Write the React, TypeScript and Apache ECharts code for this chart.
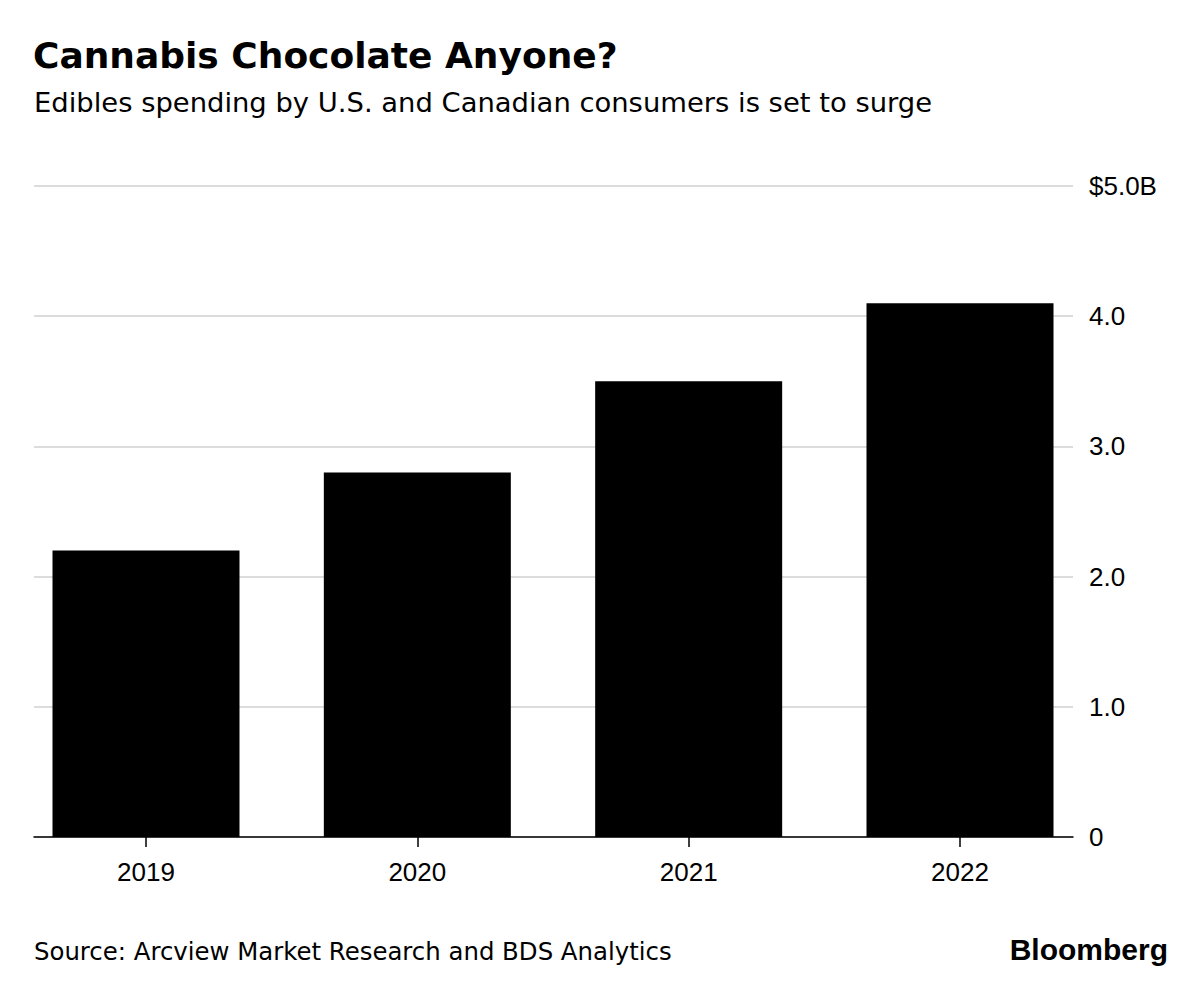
import React, { useEffect, useRef } from "react";
import * as echarts from "echarts";

const categories = ["2019", "2020", "2021", "2022"];
const spending = [2.2, 2.8, 3.5, 4.1];
const yTicks = [0, 1, 2, 3, 4, 5];

const FONT = "'Liberation Sans', Arial, Helvetica, sans-serif";
const WIDE = "'DejaVu Sans', 'Liberation Sans', sans-serif";

export default function App() {
  const ref = useRef<HTMLDivElement>(null);
  useEffect(() => {
    document.body.style.margin = "0";
    const chart = echarts.init(ref.current!, null, { renderer: "svg" });
    const yMin = yTicks[0];
    const yMax = yTicks[yTicks.length - 1];
    chart.setOption({
      animation: false,
      backgroundColor: "#ffffff",
      textStyle: { fontFamily: FONT },
      graphic: [
        {
          type: "text",
          left: 33,
          top: 37,
          style: {
            text: "Cannabis Chocolate Anyone?",
            font: `bold 36px ${WIDE}`,
            fill: "#000",
          },
        },
        {
          type: "text",
          left: 34,
          top: 89,
          style: {
            text: "Edibles spending by U.S. and Canadian consumers is set to surge",
            font: `27.4px ${WIDE}`,
            fill: "#000",
          },
        },
        {
          type: "text",
          left: 34,
          top: 939,
          style: {
            text: "Source: Arcview Market Research and BDS Analytics",
            font: `24.4px ${WIDE}`,
            fill: "#000",
          },
        },
        {
          type: "text",
          right: 32,
          top: 934,
          style: {
            text: "Bloomberg",
            font: `bold 30px ${FONT}`,
            fill: "#000",
          },
        },
      ],
      grid: [
        { left: 34, right: 127, top: 186, bottom: 146 },
        { left: 10.33, right: 104.33, top: 186, bottom: 146 },
      ],
      xAxis: [
        {
          type: "value",
          gridIndex: 0,
          min: 0,
          max: 1,
          axisLine: { show: true, lineStyle: { color: "#000", width: 1.5 } },
          axisTick: { show: false },
          axisLabel: { show: false },
          splitLine: { show: false },
        },
        {
          type: "category",
          gridIndex: 1,
          data: categories,
          axisLine: { show: false },
          axisTick: {
            show: true,
            alignWithLabel: true,
            length: 10,
            lineStyle: { color: "#000", width: 1.5 },
          },
          axisLabel: {
            color: "#000",
            fontSize: 26,
            fontFamily: FONT,
            margin: 22,
          },
          splitLine: { show: false },
        },
      ],
      yAxis: [
        {
          type: "value",
          gridIndex: 0,
          position: "right",
          min: yMin,
          max: yMax,
          interval: 1,
          axisLine: { show: false },
          axisTick: { show: false },
          axisLabel: {
            color: "#000",
            fontSize: 26,
            fontFamily: FONT,
            margin: 16,
            formatter: (v: number) =>
              v === 0 ? "0" : v === yMax ? `$${v.toFixed(1)}B` : v.toFixed(1),
          },
          splitLine: { show: true, lineStyle: { color: "#dcdcdc", width: 2 } },
        },
        {
          type: "value",
          gridIndex: 1,
          min: yMin,
          max: yMax,
          show: false,
        },
      ],
      series: [
        {
          type: "bar",
          xAxisIndex: 1,
          yAxisIndex: 1,
          data: spending,
          barWidth: 187,
          itemStyle: { color: "#000" },
          z: 1,
        },
      ],
    });
    return () => chart.dispose();
  }, []);
  return (
    <div
      ref={ref}
      style={{ position: "absolute", left: 0, top: 0, width: 1200, height: 983 }}
    />
  );
}
